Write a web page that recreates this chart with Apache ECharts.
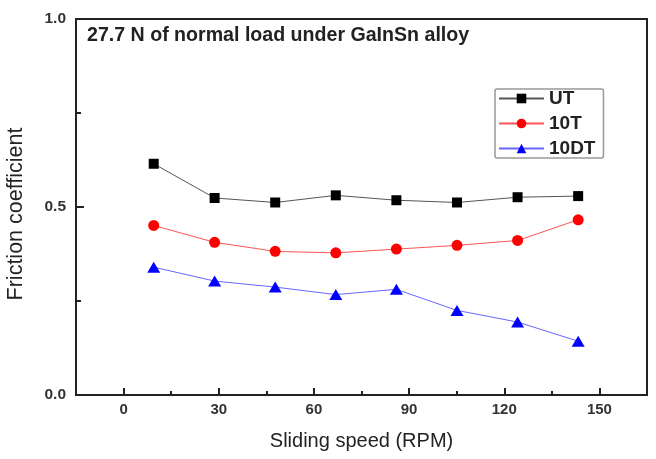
<!DOCTYPE html>
<html>
<head>
<meta charset="utf-8">
<script src="https://cdn.jsdelivr.net/npm/echarts@6.0.0/dist/echarts.min.js"></script>
<style>
	html, body { margin: 0; padding: 0; background: #fff; }
	#main { width: 656px; height: 459px; }
</style>
</head>
<body>
<div id="main"></div>
<script>
	// values
	var speed = [9.5, 28.7, 47.8, 66.9, 86.0, 105.1, 124.2, 143.3];
	var utData = [0.615, 0.524, 0.512, 0.531, 0.518, 0.512, 0.526, 0.529];
	var t10Data = [0.451, 0.406, 0.382, 0.378, 0.388, 0.398, 0.411, 0.466];
	var dt10Data = [0.340, 0.303, 0.287, 0.267, 0.281, 0.225, 0.194, 0.143];
	var xTicks = [0, 30, 60, 90, 120, 150];
	var xMinorTicks = [15, 45, 75, 105, 135];
	var seriesNames = ['UT', '10T', '10DT'];

	function pairs(ys) {
		return speed.map(function (s, i) { return [s, ys[i]]; });
	}

	var font = '"Liberation Sans", Arial, sans-serif';
	var myChart = echarts.init(document.getElementById('main'), null, {renderer: 'canvas'});

	var gridPos = {left: 76, right: 9, top: 19, bottom: 64};

	var option = {
		animation: false,
		backgroundColor: '#fff',
		textStyle: {fontFamily: font},
		grid: [
			Object.assign({show: true, borderColor: '#222', borderWidth: 2, containLabel: false}, gridPos),
			Object.assign({show: false, containLabel: false}, gridPos)
		],
		graphic: [{
			type: 'text',
			left: 87,
			top: 26,
			style: {
				text: '27.7 N of normal load under GaInSn alloy',
				font: 'bold 19.6px ' + font,
				fill: '#222'
			}
		}, {
			// y axis title
			type: 'text',
			x: 16,
			y: 214,
			rotation: Math.PI / 2,
			style: {
				text: 'Friction coefficient',
				font: '21.5px ' + font,
				fill: '#222',
				align: 'center',
				verticalAlign: 'middle'
			}
		}],
		legend: {
			orient: 'vertical',
			left: 495,
			top: 89,
			padding: [0, 8, 0, 3],
			itemWidth: 45,
			itemHeight: 12,
			itemGap: 6,
			borderColor: '#999',
			borderWidth: 1.5,
			borderRadius: 2,
			backgroundColor: '#fff',
			data: seriesNames,
			textStyle: {
				fontSize: 19,
				fontWeight: 'bold',
				color: '#222',
				fontFamily: font
			}
		},
		xAxis: [{
			type: 'value',
			gridIndex: 0,
			min: -15,
			max: 165,
			name: 'Sliding speed (RPM)',
			nameLocation: 'middle',
			nameGap: 36,
			nameTextStyle: {fontSize: 20, color: '#222', fontFamily: font},
			axisLine: {onZero: false, lineStyle: {color: '#222', width: 2}},
			axisTick: {inside: true, length: 7, customValues: xTicks, lineStyle: {color: '#222', width: 2}},
			axisLabel: {customValues: xTicks, margin: 7, fontSize: 15, fontWeight: 'bold', color: '#333'},
			splitLine: {show: false}
		}, {
			type: 'value',
			gridIndex: 1,
			min: -15,
			max: 165,
			axisLine: {show: false},
			axisTick: {inside: true, length: 4, customValues: xMinorTicks, lineStyle: {color: '#222', width: 2}},
			axisLabel: {show: false},
			splitLine: {show: false}
		}],
		yAxis: [{
			type: 'value',
			gridIndex: 0,
			min: 0,
			max: 1,
			interval: 0.5,
			axisLine: {show: true, onZero: false, lineStyle: {color: '#222', width: 2}},
			axisTick: {show: true, inside: true, length: 8, lineStyle: {color: '#222', width: 2}},
			minorTick: {show: true, splitNumber: 2, length: 5, lineStyle: {color: '#222', width: 2}},
			axisLabel: {
				margin: 10, fontSize: 15.5, fontWeight: 'bold', color: '#333',
				formatter: function (v) { return v.toFixed(1); }
			},
			splitLine: {show: false}
		}, {
			type: 'value',
			gridIndex: 1,
			min: 0,
			max: 1,
			show: false
		}],
		series: [{
			name: 'UT',
			type: 'line',
			data: pairs(utData),
			symbol: 'rect',
			symbolSize: 10,
			itemStyle: {color: '#000'},
			lineStyle: {color: '#555', width: 1}
		}, {
			name: '10T',
			type: 'line',
			data: pairs(t10Data),
			symbol: 'circle',
			symbolSize: 11,
			itemStyle: {color: '#f00'},
			lineStyle: {color: '#f55', width: 1}
		}, {
			name: '10DT',
			type: 'line',
			data: pairs(dt10Data),
			symbol: 'triangle',
			symbolSize: [13, 11],
			itemStyle: {color: '#00f'},
			lineStyle: {color: '#66f', width: 1}
		}]
	};
	myChart.setOption(option);
	window.addEventListener('resize', function () {
		myChart.resize();
	});
</script>
</body>
</html>
